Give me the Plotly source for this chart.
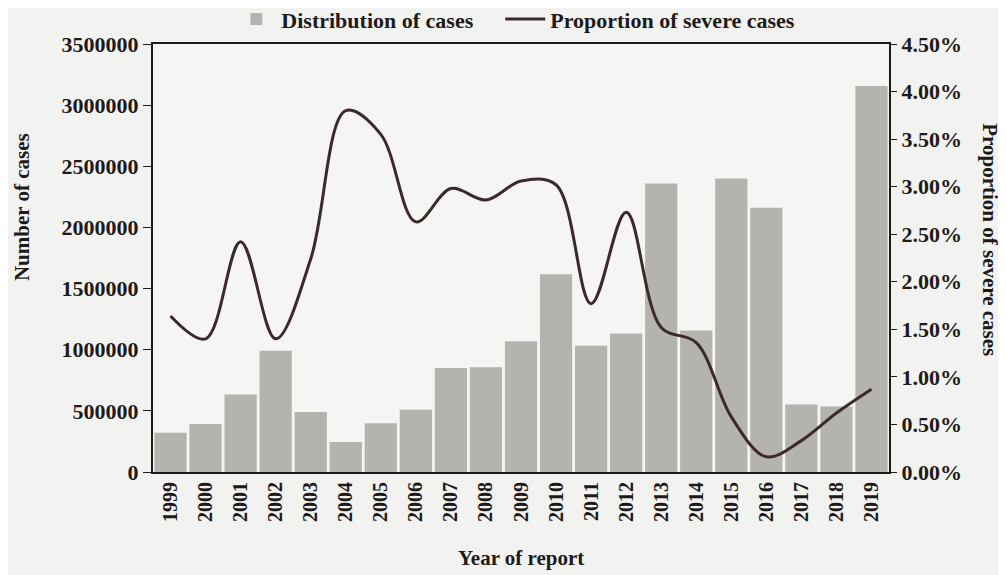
import plotly.graph_objects as go

years = [str(y) for y in range(1999, 2020)]
cases = [320000, 392000, 633000, 992000, 490000, 245000, 398000, 510000, 851000, 857000,
         1070000, 1617000, 1033000, 1133000, 2360000, 1158000, 2400000, 2160000, 552000, 536000, 3156000]
severe = [0.0164, 0.0140, 0.0242, 0.0140, 0.0224, 0.0380, 0.0355, 0.0263, 0.0298, 0.0286,
          0.0306, 0.0302, 0.0177, 0.0273, 0.0152, 0.0136, 0.0058, 0.0016, 0.0033, 0.0062, 0.0087]

FONT = "Liberation Serif"
INK = "#1e1a1a"
B = dict(family=FONT, weight="bold", color=INK)
PAD = "\u00a0" * 4

fig = go.Figure()
fig.add_trace(go.Bar(x=years, y=cases, name="Distribution of cases" + PAD,
                     marker=dict(color="#b5b3ae", line=dict(width=0))))
fig.add_trace(go.Scatter(x=years, y=severe, name="Proportion of severe cases", yaxis="y2",
                         mode="lines", line=dict(color="#3b2a2a", width=3, shape="spline", smoothing=1.0)))

fig.update_layout(
    width=998, height=567,
    margin=dict(l=145, r=117, t=36, b=103, autoexpand=False),
    paper_bgcolor="#f2f2f0", plot_bgcolor="#f5f5f3",
    font=dict(family=FONT, size=20, color=INK, weight="bold"),
    bargap=0.08,
    showlegend=True,
    legend=dict(orientation="h", x=0.493, xanchor="center", xref="paper",
                y=1.058, yanchor="middle", yref="paper",
                font=dict(size=22, **B), bgcolor="rgba(0,0,0,0)",
                itemwidth=40, traceorder="normal"),
    xaxis=dict(type="category", tickangle=-90, showline=True, linecolor=INK, linewidth=2,
               mirror=True, ticks="", showgrid=False, automargin=False,
               tickfont=dict(size=20, **B)),
    yaxis=dict(range=[0, 3500000], dtick=500000, tickformat="d", showline=True, linecolor=INK,
               linewidth=2, ticks="outside", ticklen=8, tickcolor=INK, showgrid=False, zeroline=False,
               automargin=False, tickfont=dict(size=22, **B)),
    yaxis2=dict(range=[0, 0.045], dtick=0.005, tickformat=".2%", overlaying="y", side="right",
                showline=True, linecolor=INK, linewidth=2, ticks="outside", ticklen=6, tickcolor=INK,
                showgrid=False, zeroline=False, automargin=False,
                tickfont=dict(size=22, **B)),
    annotations=[
        dict(text="Year of report", xref="paper", yref="paper", x=0.5, y=-0.201,
             xanchor="center", yanchor="middle", showarrow=False, font=dict(size=21, **B)),
        dict(text="Number of cases", xref="paper", yref="paper", x=-0.178, y=0.619,
             xanchor="center", yanchor="middle", textangle=-90, showarrow=False, font=dict(size=21, **B)),
        dict(text="Proportion of severe cases", xref="paper", yref="paper", x=1.137, y=0.542,
             xanchor="center", yanchor="middle", textangle=90, showarrow=False, font=dict(size=21, **B)),
    ],
)

fig.write_html("out.html")
